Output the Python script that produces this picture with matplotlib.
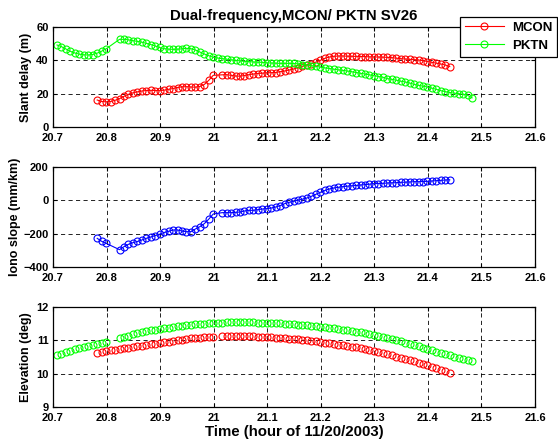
import numpy as np
import matplotlib
matplotlib.use("Agg")
import matplotlib.pyplot as plt

plt.rcParams['font.family'] = ['Liberation Sans', 'DejaVu Sans']
plt.rcParams['font.weight'] = 'bold'

N = None
time_grid = [20.7075, 20.7158, 20.7242, 20.7325, 20.7408, 20.7492, 20.7575, 20.7658, 20.7742, 20.7825,
             20.7908, 20.7992, 20.8075, 20.8158, 20.8242, 20.8325, 20.8408, 20.8492, 20.8575, 20.8658,
             20.8742, 20.8825, 20.8908, 20.8992, 20.9075, 20.9158, 20.9242, 20.9325, 20.9408, 20.9492,
             20.9575, 20.9658, 20.9742, 20.9825, 20.9908, 20.9992, 21.0075, 21.0158, 21.0242, 21.0325,
             21.0408, 21.0492, 21.0575, 21.0658, 21.0742, 21.0825, 21.0908, 21.0992, 21.1075, 21.1158,
             21.1242, 21.1325, 21.1408, 21.1492, 21.1575, 21.1658, 21.1742, 21.1825, 21.1908, 21.1992,
             21.2075, 21.2158, 21.2242, 21.2325, 21.2408, 21.2492, 21.2575, 21.2658, 21.2742, 21.2825,
             21.2908, 21.2992, 21.3075, 21.3158, 21.3242, 21.3325, 21.3408, 21.3492, 21.3575, 21.3658,
             21.3742, 21.3825, 21.3908, 21.3992, 21.4075, 21.4158, 21.4242, 21.4325, 21.4408, 21.4492,
             21.4575, 21.4658, 21.4742, 21.4825]

pktn_delay = [49.2, 48.2, 46.8, 45.4, 44.4, 43.7, 43.3, 43.2, 43.5, 44.3,
              45.5, 46.9, N, N, 52.6, 52.6, 52.3, 51.8, 51.4, 50.9,
              50.2, 49.5, 48.6, 47.7, 47.0, 46.7, 46.6, 46.7, 46.9, 47.2,
              47.0, 46.2, 45.0, 43.8, 42.8, 41.8, 41.4, 41.0, 40.7, 40.3,
              40.0, 39.7, 39.4, 39.2, 39.0, 38.9, 38.8, 38.5, 38.4, 38.3,
              38.2, 38.2, 38.2, 38.1, 37.9, 37.5, 37.2, 36.8, 36.4, 35.9,
              35.5, 35.1, 34.7, 34.3, 34.0, 33.6, 33.2, 32.7, 32.2, 31.8,
              31.3, 30.8, 30.3, 29.9, 29.0, 28.6, 28.1, 27.5, 27.0, 26.4,
              25.6, 25.0, 24.5, 24.0, 23.3, 22.6, 21.8, 21.2, 20.7, 20.3,
              20.0, 19.7, 19.0, 17.5]

mcon_delay = [N, N, N, N, N, N, N, N, N, 16.2,
              15.3, 15.1, 15.3, 16.0, 17.0, 18.4, 19.6, 20.5, 21.1, 21.6,
              21.9, 22.0, 21.9, 21.8, 22.1, 22.6, 23.1, 23.7, 24.1, 24.2,
              24.0, 23.9, 24.3, 25.5, 28.0, 31.0, N, 31.3, 31.4, 31.0,
              30.6, 30.5, 30.9, 31.4, 31.8, 32.1, 32.3, 32.5, 32.6, 32.7,
              33.2, 33.6, 34.2, 34.8, 35.6, 36.4, 37.3, 38.0, 38.9, 40.0,
              41.2, 42.0, 42.4, 42.6, 42.6, 42.5, 42.4, 42.4, 42.3, 42.2,
              42.1, 42.0, 42.0, 41.9, 41.8, 41.6, 41.3, 41.0, 40.8, 40.6,
              40.4, 40.2, 39.8, 39.3, 38.8, 38.3, 37.8, 37.2, 36.3, N,
              N, N, N, N]

iono_slope = [N, N, N, N, N, N, N, N, N, -228,
              -246, -258, N, N, -296, -278, -264, -254, -247, -238,
              -228, -220, -212, -203, -193, -186, -178, -178, -184, -188,
              -188, -172, -158, -140, -113, -82, N, -74, -74, -74,
              -72, -70, -64, -60, -60, -56, -52, -50, -46, -40,
              -32, -20, -12, -6, 1, 7, 14, 24, 36, 48,
              59, 68, 74, 78, 82, 85, 87, 89, 92, 94,
              97, 100, 101, 102, 104, 105, 106, 108, 109, 110,
              112, 112, 113, 114, 116, 118, 120, 122, 123, N,
              N, N, N, N]

pktn_elev = [10.55, 10.60, 10.64, 10.69, 10.73, 10.77, 10.80, 10.84, 10.87, 10.90,
             10.93, 10.96, N, N, 11.06, 11.10, 11.14, 11.18, 11.21, 11.24,
             11.27, 11.30, 11.32, 11.34, 11.36, 11.38, 11.40, 11.42, 11.44, 11.45,
             11.47, 11.48, 11.49, 11.50, 11.51, 11.52, 11.53, 11.53, 11.54, 11.54,
             11.54, 11.54, 11.54, 11.54, 11.54, 11.53, 11.53, 11.52, 11.52, 11.51,
             11.51, 11.50, 11.49, 11.48, 11.47, 11.46, 11.45, 11.44, 11.43, 11.41,
             11.40, 11.38, 11.36, 11.34, 11.32, 11.30, 11.28, 11.26, 11.24, 11.22,
             11.20, 11.17, 11.14, 11.11, 11.08, 11.04, 11.01, 10.97, 10.93, 10.90,
             10.86, 10.82, 10.78, 10.74, 10.70, 10.66, 10.62, 10.58, 10.55, 10.51,
             10.48, 10.45, 10.41, 10.37]

mcon_elev = [N, N, N, N, N, N, N, N, N, 10.62,
             10.65, 10.68, 10.70, 10.72, 10.74, 10.76, 10.78, 10.80, 10.82, 10.84,
             10.86, 10.88, 10.90, 10.92, 10.94, 10.96, 10.98, 11.00, 11.02, 11.04,
             11.06, 11.07, 11.08, 11.09, 11.10, 11.11, N, 11.12, 11.12, 11.12,
             11.12, 11.12, 11.12, 11.12, 11.12, 11.11, 11.10, 11.10, 11.09, 11.08,
             11.07, 11.06, 11.05, 11.04, 11.03, 11.02, 11.00, 10.99, 10.97, 10.95,
             10.93, 10.91, 10.89, 10.87, 10.85, 10.83, 10.81, 10.79, 10.77, 10.74,
             10.71, 10.68, 10.65, 10.62, 10.58, 10.55, 10.51, 10.48, 10.44, 10.41,
             10.37, 10.33, 10.29, 10.25, 10.21, 10.17, 10.12, 10.07, 10.01, N,
             N, N, N, N]

x_ticks = [20.7, 20.8, 20.9, 21.0, 21.1, 21.2, 21.3, 21.4, 21.5, 21.6]
x_tick_labels = ['20.7', '20.8', '20.9', '21', '21.1', '21.2', '21.3', '21.4', '21.5', '21.6']


def valid(vals):
    t = np.array([time_grid[i] for i, v in enumerate(vals) if v is not None])
    y = np.array([v for v in vals if v is not None], dtype=float)
    return t, y


W, H = 558, 442
fig = plt.figure(figsize=(W / 100, H / 100), dpi=100)

left = 53 / W
width = (535 - 53) / W
panels = [(27, 127), (167, 267), (307, 407)]
axes = []
for top, bot in panels:
    ax = fig.add_axes([left, 1 - bot / H, width, (bot - top) / H])
    axes.append(ax)

mk = dict(marker='o', markersize=5, markerfacecolor='none', markeredgewidth=0.8, linewidth=0.8)
mk_only = dict(linestyle='none', marker='o', markersize=5, markerfacecolor='none', markeredgewidth=0.8)

ax1, ax2, ax3 = axes
t, y = valid(mcon_delay)
ax1.plot(t, y, color='#ff0000', label='MCON', **mk)
t, y = valid(pktn_delay)
ax1.plot(t, y, color='#00ff00', label='PKTN', **mk)
ax1.set_ylim(0, 60)
ax1.set_yticks([0, 20, 40, 60])
ax1.set_ylabel('Slant delay (m)', fontsize=9, fontweight='bold', labelpad=3)
ax1.set_title('Dual-frequency,MCON/ PKTN SV26', fontsize=10.8, fontweight='bold', pad=5)

t, y = valid(iono_slope)
ax2.plot(t, y, color='#0000ff', **mk)
ax2.set_ylim(-400, 200)
ax2.set_yticks([-400, -200, 0, 200])
ax2.set_ylabel('Iono slope (mm/km)', fontsize=9, fontweight='bold', labelpad=2)

t, y = valid(mcon_elev)
ax3.plot(t, y, color='#ff0000', **mk_only)
t, y = valid(pktn_elev)
ax3.plot(t, y, color='#00ff00', **mk_only)
ax3.set_ylim(9, 12)
ax3.set_yticks([9, 10, 11, 12])
ax3.set_ylabel('Elevation (deg)', fontsize=9, fontweight='bold', labelpad=3)
ax3.set_xlabel('Time (hour of 11/20/2003)', fontsize=10.8, fontweight='bold', labelpad=2)

for ax in axes:
    ax.set_xlim(20.7, 21.6)
    ax.set_xticks(x_ticks)
    ax.set_xticklabels(x_tick_labels)
    ax.grid(True, color='black', linestyle=(0, (5, 4)), linewidth=0.6)
    ax.tick_params(direction='in', length=3, width=0.8, top=True, right=True, labelsize=8)
    ax.tick_params(axis='x', pad=4)
    ax.tick_params(axis='y', pad=3)
    for lbl in ax.get_xticklabels() + ax.get_yticklabels():
        lbl.set_fontweight('bold')
    for s in ax.spines.values():
        s.set_linewidth(0.9)
        s.set_color('black')

leg = ax1.legend(loc='upper right', bbox_to_anchor=(557 / W, 1 - 17 / H),
                 bbox_transform=fig.transFigure, fancybox=False, framealpha=1,
                 edgecolor='black', prop={'weight': 'bold', 'size': 9.5},
                 handlelength=3.0, handletextpad=0.6, borderpad=0.35,
                 labelspacing=0.45, borderaxespad=0)
leg.get_frame().set_linewidth(0.9)

fig.savefig('out.png', dpi=100)
